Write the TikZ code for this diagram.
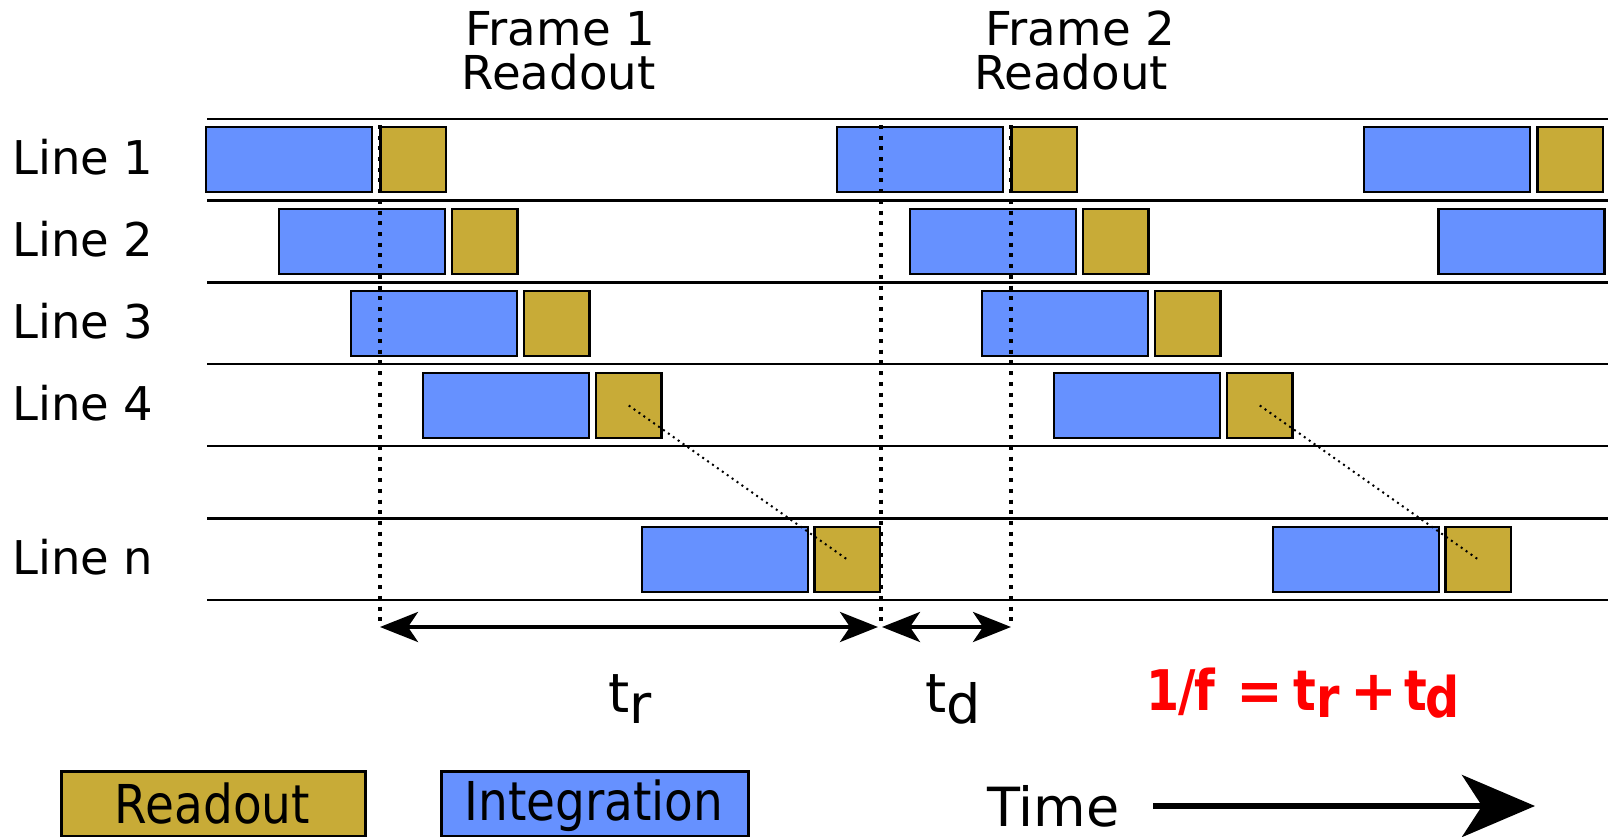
\documentclass[tikz,border=0pt]{standalone}
\usepackage{fontspec}
\setmainfont{DejaVu Sans}
\usetikzlibrary{arrows.meta}
\definecolor{integ}{RGB}{102,145,255}
\definecolor{rdout}{RGB}{200,171,55}
\newcommand\narrow[1]{\scalebox{0.85}[1]{#1}}

\begin{document}
\begin{tikzpicture}[x=1pt,y=-1pt,
  sep/.style={line width=2.7pt},
  intbox/.style={draw, line width=2.5pt, fill=integ, anchor=north west,
    minimum width=166pt, minimum height=65pt, inner sep=0pt, outer sep=0pt},
  rdbox/.style={draw, line width=2.5pt, fill=rdout, anchor=north west,
    minimum width=65.5pt, minimum height=65pt, inner sep=0pt, outer sep=0pt},
  vdot/.style={line width=4pt, dash pattern=on 4pt off 6.7pt},
  ddot/.style={line width=2pt, dash pattern=on 2pt off 4pt},
  dim/.style={line width=4pt, {Stealth[length=38pt,width=30pt,inset=10pt]}-{Stealth[length=38pt,width=30pt,inset=10pt]}},
  lbl/.style={anchor=base west, inner sep=0pt, font=\fontsize{46.5}{50}\selectfont},
  ttl/.style={anchor=base west, inner sep=0pt, font=\fontsize{46.7}{50}\selectfont},
  tlbl/.style={anchor=base west, inner sep=0pt, font=\fontsize{54}{60}\selectfont},
  legbox/.style={draw, line width=3pt, anchor=north west, minimum height=65pt,
    inner sep=0pt, outer sep=0pt},
  legtxt/.style={anchor=base, inner sep=0pt, font=\fontsize{47}{50}\selectfont}]

\useasboundingbox (0,0) rectangle (1608,837);

% row separators
\foreach \y in {119,200.7,282.7,364,446,518.3,600}
  \draw[sep] (207,\y) -- (1608,\y);

% line labels
\node[lbl] (l1) at (12,175) {Line 1};
\node[lbl] (l2) at (12,256.5) {Line 2};
\node[lbl] (l3) at (12,338.5) {Line 3};
\node[lbl] (l4) at (12,420.5) {Line 4};
\node[lbl] (ln) at (12,574.5) {Line n};

% frame titles
\node[ttl] (f1a) at (465,45.7) {Frame 1};
\node[ttl] (f1b) at (461.5,89.3) {Readout};
\node[ttl] (f2a) at (985,45.7) {Frame 2};
\node[ttl] (f2b) at (974,89.3) {Readout};

% integration and readout windows of two full frames
\foreach \f/\dx in {1/0,2/631}{
  \foreach \k/\bx/\rx/\ty in {1/206/380.5/127, 2/279/452/209, 3/351/524/291,
                              4/423/596/373, n/642/814.5/527}{
    \node[intbox] (i\f\k) at (\bx+\dx,\ty) {};
    \node[rdbox] (r\f\k) at (\rx+\dx,\ty) {};
  }
}
% start of the third frame
\node[intbox] (i31) at (1364,127) {};
\node[rdbox] (r31) at (1537.5,127) {};
\node[intbox] (i32) at (1438.5,209) {};

% readout progression
\draw[ddot] (r14.center) -- (r1n.center);
\draw[ddot] (r24.center) -- (r2n.center);

% timing marks
\coordinate (v1t) at (380,125);
\coordinate (v1b) at (380,627);
\coordinate (v2t) at (881,125);
\coordinate (v2b) at (881,627);
\coordinate (v3t) at (1011,125);
\coordinate (v3b) at (1011,627);
\draw[vdot] (v1t) -- (v1b);
\draw[vdot] (v2t) -- (v2b);
\draw[vdot] (v3t) -- (v3b);
\draw[dim, shorten >=3pt] (v1b) -- (v2b);
\draw[dim, shorten <=1pt] (v2b) -- (v3b);

\node[tlbl] (tr) at (608,712) {t\raisebox{-11pt}{r}};
\node[tlbl] (td) at (925,712) {t\raisebox{-11pt}{d}};

% frame period
\node[anchor=base west, inner sep=0pt, text=red,
  font=\fontsize{56}{60}\selectfont\bfseries] (eq) at (1146,710)
  {\narrow{1\hspace{-0.5pt}/\hspace{-2.5pt}f}\hspace{21.5pt}=\hspace{10pt}\narrow{t}\raisebox{-7pt}{\narrow{r}}\hspace{11pt}+\hspace{7pt}\narrow{t}\hspace{-1.5pt}\raisebox{-7pt}{\narrow{d}}};

% legend
\node[legbox, fill=rdout, minimum width=303.5pt] (kr) at (61.5,771) {};
\node[legbox, fill=integ, minimum width=307pt] (ki) at (441,771) {};
\node[legtxt] (krt) at (212.5,823.5) {\scalebox{1}[1.14]{Readout}};
\node[legtxt] (kit) at (594,820) {\scalebox{1}[1.14]{Integration}};

% time axis
\node[anchor=base west, inner sep=0pt, font=\fontsize{54}{60}\selectfont] (time) at (987,826) {Time};
\coordinate (ta) at (1153,806);
\coordinate (tb) at (1535,806);
\draw[line width=5.5pt, -{Stealth[length=73pt,width=62pt,inset=20pt]}] (ta) -- (tb);

\end{tikzpicture}
\end{document}
